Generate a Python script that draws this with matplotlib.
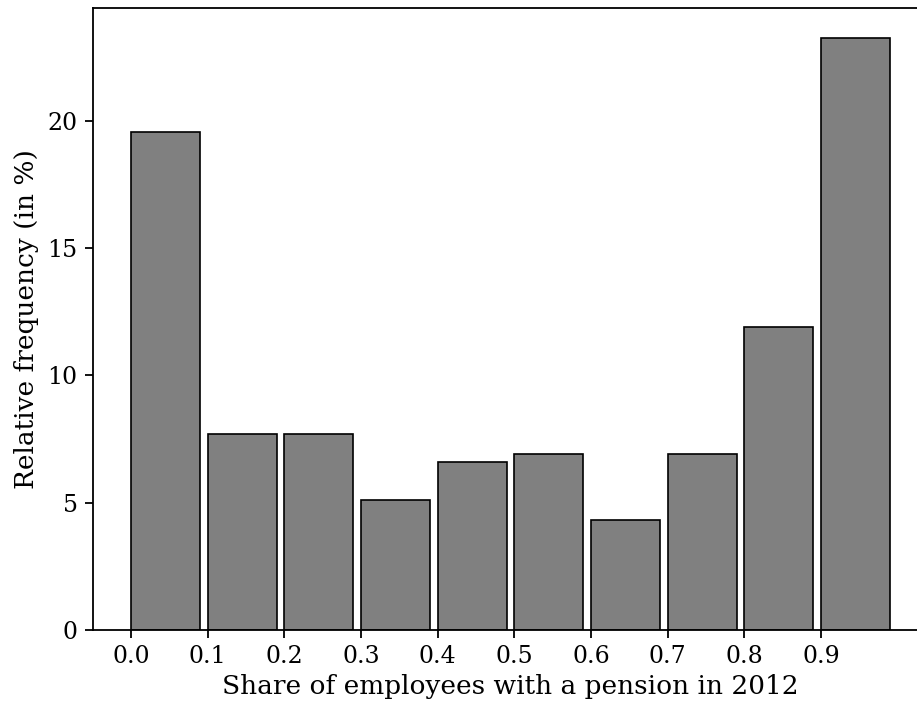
import numpy as np
import matplotlib
matplotlib.use("Agg")
import matplotlib.pyplot as plt

plt.rcParams['font.family'] = ['DejaVu Serif']

bin_left = [0.0, 0.1, 0.2, 0.3, 0.4, 0.5, 0.6, 0.7, 0.8, 0.9]
rel_freq = [19.57, 7.70, 7.70, 5.11, 6.60, 6.92, 4.32, 6.92, 11.90, 23.26]
xticks = [0.0, 0.1, 0.2, 0.3, 0.4, 0.5, 0.6, 0.7, 0.8, 0.9]
yticks = [0, 5, 10, 15, 20]

fig = plt.figure(figsize=(9.17, 7.06), dpi=100)
ax = fig.add_axes([93/917, 76/706, 835/917, 622/706])

ax.bar(bin_left, rel_freq, width=0.09, align='edge',
       color='gray', edgecolor='black', linewidth=1.2)

ax.set_xticks(xticks)
ax.set_yticks(yticks)
ax.tick_params(labelsize=17, length=6, width=1.3, pad=5)
for s in ax.spines.values():
    s.set_linewidth(1.3)

ax.set_xlabel('Share of employees with a pension in 2012', fontsize=19, labelpad=4)
ax.set_ylabel('Relative frequency (in %)', fontsize=19, labelpad=6)

fig.savefig('out.png', dpi=100)
